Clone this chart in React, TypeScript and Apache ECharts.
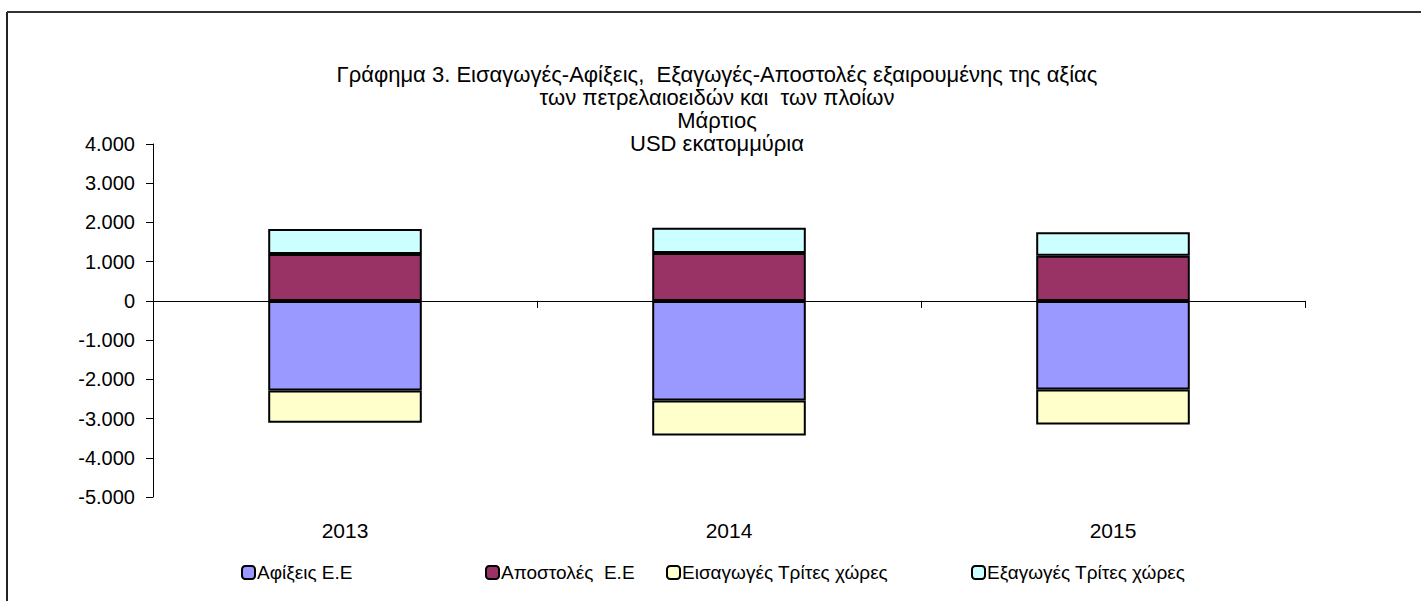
import React, { useEffect, useRef } from "react";
import * as echarts from "echarts";

const categories = ["2013", "2014", "2015"];
const arrivalsEU = [-2284, -2540, -2258];
const dispatchesEU = [1194, 1220, 1151];
const importsThird = [-826, -895, -895];
const exportsThird = [639, 647, 598];

const seriesNames = [
  "Αφίξεις Ε.Ε",
  "Αποστολές  Ε.Ε",
  "Εισαγωγές Τρίτες χώρες",
  "Εξαγωγές Τρίτες χώρες",
];
const seriesColors = ["#9999FF", "#993366", "#FFFFCC", "#CCFFFF"];
const legendLefts = [236, 480, 661, 966];

const titleLines = [
  "Γράφημα 3. Εισαγωγές-Αφίξεις,  Εξαγωγές-Αποστολές εξαιρουμένης της αξίας",
  "των πετρελαιοειδών και  των πλοίων",
  "Μάρτιος",
  "USD εκατομμύρια",
];

const FONT = "'Liberation Sans', Arial, sans-serif";

export default function App() {
  const ref = useRef<HTMLDivElement>(null);
  useEffect(() => {
    if (!ref.current) return;
    const chart = echarts.init(ref.current, undefined, { renderer: "svg" });
    const dataSets = [arrivalsEU, dispatchesEU, importsThird, exportsThird];
    chart.setOption({
      animation: false,
      backgroundColor: "#ffffff",
      textStyle: { fontFamily: FONT },
      title: {
        text: titleLines.join("\n"),
        left: 712,
        textAlign: "center",
        top: 58,
        textStyle: {
          fontFamily: FONT,
          fontSize: 22,
          fontWeight: "normal",
          lineHeight: 23,
          color: "#000",
        },
      },
      legend: seriesNames.map((n, i) => ({
        data: [n],
        left: legendLefts[i],
        top: 558,
        itemWidth: 13,
        itemHeight: 13,
        itemGap: 4,
        textStyle: { fontFamily: FONT, fontSize: 19, color: "#000", padding: [0, 0, 0, -3] },
        itemStyle: { borderColor: "#000", borderWidth: 2 },
        selectedMode: false,
      })),
      grid: { left: 153, right: 116, top: 144, bottom: 104, containLabel: false },
      xAxis: [
        {
          type: "category",
          data: categories,
          position: "bottom",
          axisLine: { show: false, onZero: false },
          axisTick: { show: false },
          axisLabel: { margin: 23, fontSize: 21, color: "#000", fontFamily: FONT },
          splitLine: { show: false },
        },
        {
          type: "category",
          data: categories,
          position: "top",
          axisLine: { show: true, onZero: true, lineStyle: { color: "#000", width: 1 } },
          axisTick: { show: true, inside: true, length: 7, lineStyle: { color: "#000" } },
          axisLabel: { show: false },
          splitLine: { show: false },
        },
      ],
      yAxis: {
        type: "value",
        min: -5000,
        max: 4000,
        interval: 1000,
        axisLine: { show: true, lineStyle: { color: "#000", width: 1 } },
        axisTick: { show: true, length: 7, lineStyle: { color: "#000" } },
        splitLine: { show: false },
        axisLabel: {
          margin: 18,
          fontSize: 20,
          color: "#000",
          fontFamily: FONT,
          formatter: (v: number) => {
            const s = Math.abs(v).toString().replace(/\B(?=(\d{3})+(?!\d))/g, ".");
            return (v < 0 ? "-" : "") + s;
          },
        },
      },
      series: seriesNames.map((n, i) => ({
        name: n,
        type: "bar",
        stack: "total",
        xAxisIndex: 0,
        barWidth: "40%",
        data: dataSets[i],
        itemStyle: { color: seriesColors[i], borderColor: "#000", borderWidth: 2 },
      })),
      graphic: [
        { type: "line", shape: { x1: 7, y1: 12, x2: 7, y2: 601 }, style: { stroke: "#222", lineWidth: 2 } },
        { type: "line", shape: { x1: 7, y1: 12, x2: 1421, y2: 12 }, style: { stroke: "#333", lineWidth: 2 } },
      ],
    });
    return () => chart.dispose();
  }, []);
  return (
    <div
      ref={ref}
      style={{ position: "fixed", left: 0, top: 0, width: 1421, height: 601 }}
    />
  );
}
